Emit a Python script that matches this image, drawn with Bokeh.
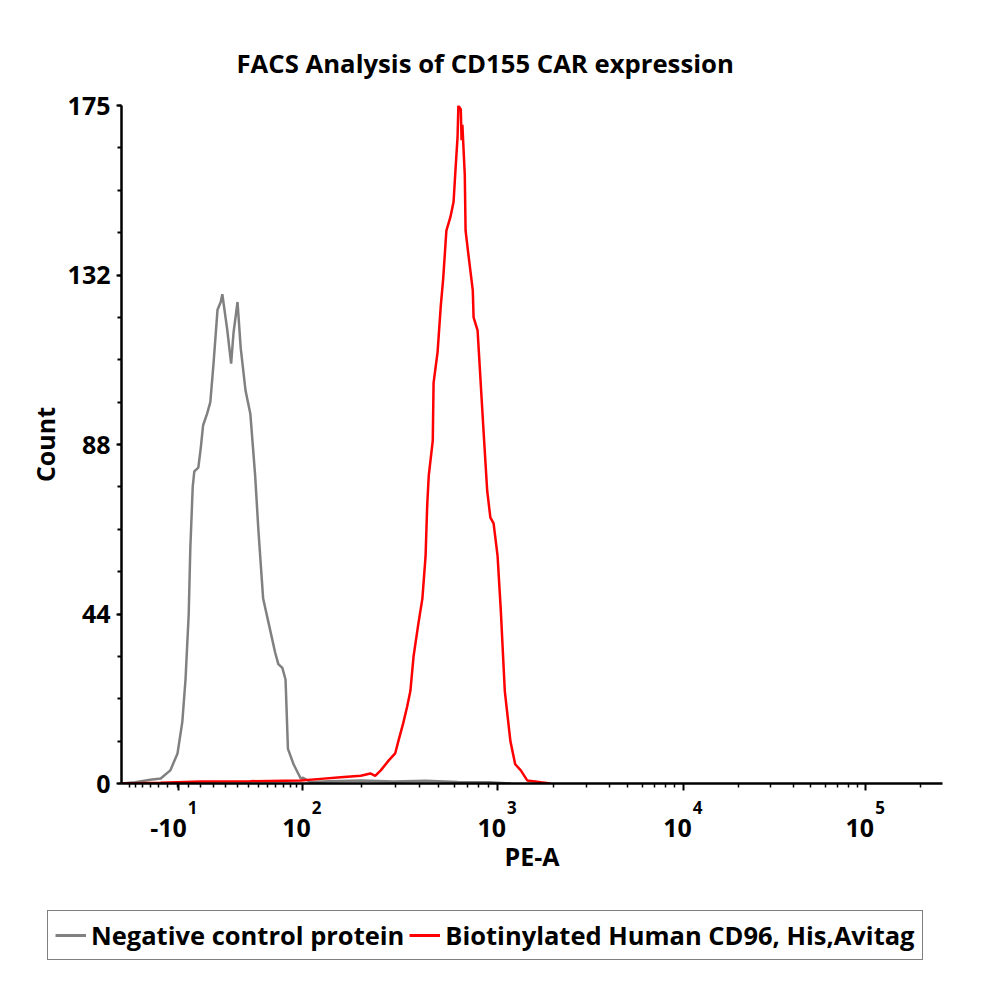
import math
import numpy as np
from bokeh.plotting import figure
from bokeh.layouts import column
from bokeh.models import (Range1d, FixedTicker, Legend, LegendItem, LinearAxis, Title)
from bokeh.embed import file_html
from bokeh.resources import INLINE

# ---------------- data (x in display channels 0..1026, y in counts) ----------------
TITLE = "FACS Analysis of CD155 CAR expression"
X_LABEL = "PE-A"
Y_LABEL = "Count"
SERIES_NAMES = ["Negative control protein", "Biotinylated Human CD96, His,Avitag"]
SERIES_COLORS = ["#808080", "#ff0000"]

GRAY_CH = [0, 17, 36, 49, 61, 70, 76, 80, 84, 86, 89, 91, 96, 99, 102, 107, 111, 115,
           120, 124, 126, 130, 132, 137, 140, 145, 149, 155, 161, 167, 171, 177, 184,
           192, 196, 201, 205, 208, 215, 224, 227, 236, 260, 300, 340, 380, 420, 460, 486]
GRAY_COUNT = [0, 0.3, 1, 1.3, 3.4, 7.8, 16, 27, 44, 61, 77, 81, 82, 87, 93, 96, 99, 109,
              123, 125, 127, 121, 118, 109, 117, 125, 113, 102, 96, 80, 66, 48, 41.5,
              34, 31, 30, 27, 9, 5, 1.3, 1.5, 0.4, 0.6, 0.8, 0.5, 0.7, 0.4, 0.3, 0]

RED_CH = [0, 49, 99, 161, 224, 249, 274, 299, 311, 317, 324, 334, 342, 346, 352, 357,
          361, 365, 371, 376, 380, 382, 384, 389, 390, 395, 399, 402, 406, 411, 415,
          417, 420, 421, 424, 425, 426, 429, 430, 434, 439, 440, 445, 447, 452, 457,
          461, 465, 470, 474, 479, 486, 492, 499, 507, 524, 536]
RED_COUNT = [0, 0.2, 0.5, 0.6, 0.8, 1.2, 1.6, 2, 2.6, 2, 3.4, 6, 7.8, 11, 15.6, 20,
             24, 33, 41.5, 48, 59, 72, 80, 89, 104, 112, 124, 131, 143.5, 147, 151,
             158, 168, 176, 175, 167, 171, 158, 143.5, 136.5, 128, 121, 117.6, 110.6,
             93, 76, 69, 67.5, 59, 45, 24, 11, 5, 3.4, 0.8, 0.3, 0]

Y_TICKS = [0, 44, 88, 132, 176]
Y_TICK_LABELS = ["0", "44", "88", "132", "175"]
Y_MINOR_STEP = 11

X_DECADE_CH = [71, 226, 470, 702, 930]
X_DECADE_BASE = ["-10", "10", "10", "10", "10"]
X_DECADE_EXP = ["1", "2", "3", "4", "5"]
X_LINEAR_VALUES = list(range(-90, 100, 10))  # near-zero linear region tick values

X_MAX = 1026
Y_MAX = 176
FONT = "Open Sans"
BASE_SIZE = 25
EXP_SIZE = 17

FRAME_W = 821
CH_PER_PX = X_MAX / FRAME_W
W = 992
H_MAIN = 900
H_LEG = 92

# ---------------- minor ticks of the biexponential axis ----------------
def low_region_channel(v):
    return X_DECADE_CH[1] - 77.3 * (math.asinh(100 / 50) - math.asinh(v / 50))

x_minor = [low_region_channel(v) for v in X_LINEAR_VALUES]
for i in range(1, len(X_DECADE_CH)):
    lo = X_DECADE_CH[i]
    span = (X_DECADE_CH[i + 1] - lo) if i + 1 < len(X_DECADE_CH) else (X_DECADE_CH[i] - X_DECADE_CH[i - 1])
    for k in range(2, 10):
        pos = lo + span * math.log10(k)
        if pos < X_MAX:
            x_minor.append(pos)

y_minor = list(np.arange(0, Y_MAX + 0.1, Y_MINOR_STEP))

# ---------------- main figure ----------------
p = figure(width=W, height=H_MAIN, output_backend="svg", toolbar_location=None,
           x_range=Range1d(0, X_MAX), y_range=Range1d(0, Y_MAX),
           min_border_left=121, min_border_right=W - 121 - FRAME_W, min_border_top=105,
           min_border_bottom=H_MAIN - 783)
p.frame_align = False
p.outline_line_color = None
p.grid.visible = False
p.background_fill_color = "white"
p.border_fill_color = "white"

p.title = Title(text=TITLE, align="left", offset=115, standoff=50,
                text_font=FONT, text_font_style="bold", text_font_size="25.7px",
                text_color="black")

p.line(GRAY_CH, GRAY_COUNT, line_color=SERIES_COLORS[0], line_width=2.5)
p.line(RED_CH, RED_COUNT, line_color=SERIES_COLORS[1], line_width=2.5)

# y axis
ya = p.yaxis[0]
ya.ticker = FixedTicker(ticks=Y_TICKS, minor_ticks=y_minor)
ya.major_label_overrides = {t: l for t, l in zip(Y_TICKS, Y_TICK_LABELS)}
ya.axis_line_width = 2.5
ya.major_tick_line_width = 2
ya.minor_tick_line_width = 2
ya.major_tick_out = 5
ya.major_tick_in = 0
ya.minor_tick_out = 4
ya.minor_tick_in = 0
ya.major_label_standoff = 6
ya.major_label_text_font = FONT
ya.major_label_text_font_style = "bold"
ya.major_label_text_font_size = "25px"
ya.major_label_text_color = "black"
ya.axis_label = Y_LABEL
ya.axis_label_text_font = FONT
ya.axis_label_text_font_style = "bold"
ya.axis_label_text_font_size = "25px"
ya.axis_label_text_color = "black"
ya.axis_label_standoff = 3

# x axis: line and ticks only
xa = p.xaxis[0]
xa.ticker = FixedTicker(ticks=X_DECADE_CH, minor_ticks=x_minor)
xa.major_label_overrides = {t: "" for t in X_DECADE_CH}
xa.major_label_text_font_size = "0px"
xa.major_label_standoff = 0
xa.axis_line_width = 2.5
xa.major_tick_line_width = 2
xa.minor_tick_line_width = 1.5
xa.major_tick_out = 7
xa.major_tick_in = 0
xa.minor_tick_out = 4
xa.minor_tick_in = 0

def label_axis(positions, labels, size, standoff):
    ax = LinearAxis(ticker=FixedTicker(ticks=positions, minor_ticks=[]))
    ax.major_label_overrides = {t: l for t, l in zip(positions, labels)}
    ax.axis_line_color = None
    ax.major_tick_line_color = None
    ax.minor_tick_line_color = None
    ax.major_tick_out = 0
    ax.major_tick_in = 0
    ax.minor_tick_out = 0
    ax.minor_tick_in = 0
    ax.major_label_standoff = standoff
    ax.major_label_text_font = FONT
    ax.major_label_text_font_style = "bold"
    ax.major_label_text_font_size = f"{size}px"
    ax.major_label_text_color = "black"
    return ax

# exponent labels: left edge ~9.5 px right of the decade tick
exp_w = 0.572 * EXP_SIZE
exp_pos = [c + (9.5 + exp_w / 2) * CH_PER_PX for c in X_DECADE_CH]
ax_exp = label_axis(exp_pos, X_DECADE_EXP, EXP_SIZE, 10)
p.add_layout(ax_exp, "below")

# base labels: right edge ~8.5 px right of the decade tick
def base_width(s):
    return BASE_SIZE * (0.572 * sum(ch.isdigit() for ch in s) + 0.32 * s.count("-"))

base_pos = [c + (8.5 - base_width(b) / 2) * CH_PER_PX for c, b in zip(X_DECADE_CH, X_DECADE_BASE)]
ax_base = label_axis(base_pos, X_DECADE_BASE, BASE_SIZE, 2)
ax_base.axis_label = X_LABEL
ax_base.axis_label_text_font = FONT
ax_base.axis_label_text_font_style = "bold"
ax_base.axis_label_text_font_size = "25px"
ax_base.axis_label_text_color = "black"
ax_base.axis_label_standoff = -1
p.add_layout(ax_base, "below")

# ---------------- legend strip ----------------
lg = figure(width=W, height=H_LEG, output_backend="svg", toolbar_location=None,
            x_range=Range1d(0, 1), y_range=Range1d(-2, -1),
            x_axis_location=None, y_axis_location=None, min_border=0)
lg.frame_align = False
lg.outline_line_color = None
lg.grid.visible = False
lg.background_fill_color = "white"
lg.border_fill_color = "white"
# legend proxies: the series drawn outside this strip's visible range
proxies = [lg.line(GRAY_CH, GRAY_COUNT, line_color=SERIES_COLORS[0], line_width=3),
           lg.line(RED_CH, RED_COUNT, line_color=SERIES_COLORS[1], line_width=3)]

legend = Legend(items=[LegendItem(label=n, renderers=[r]) for n, r in zip(SERIES_NAMES, proxies)],
                location=(47, H_LEG - 14 - 46), orientation="horizontal",
                label_text_font=FONT, label_text_font_style="bold",
                label_text_font_size="25.5px", label_text_color="black",
                glyph_width=31, label_standoff=5, spacing=5, padding=7, margin=0,
                border_line_color="black", border_line_width=1,
                background_fill_color="white", background_fill_alpha=1)
lg.add_layout(legend, "center")

open("out.html", "w").write(file_html(column(p, lg, spacing=0), INLINE))
